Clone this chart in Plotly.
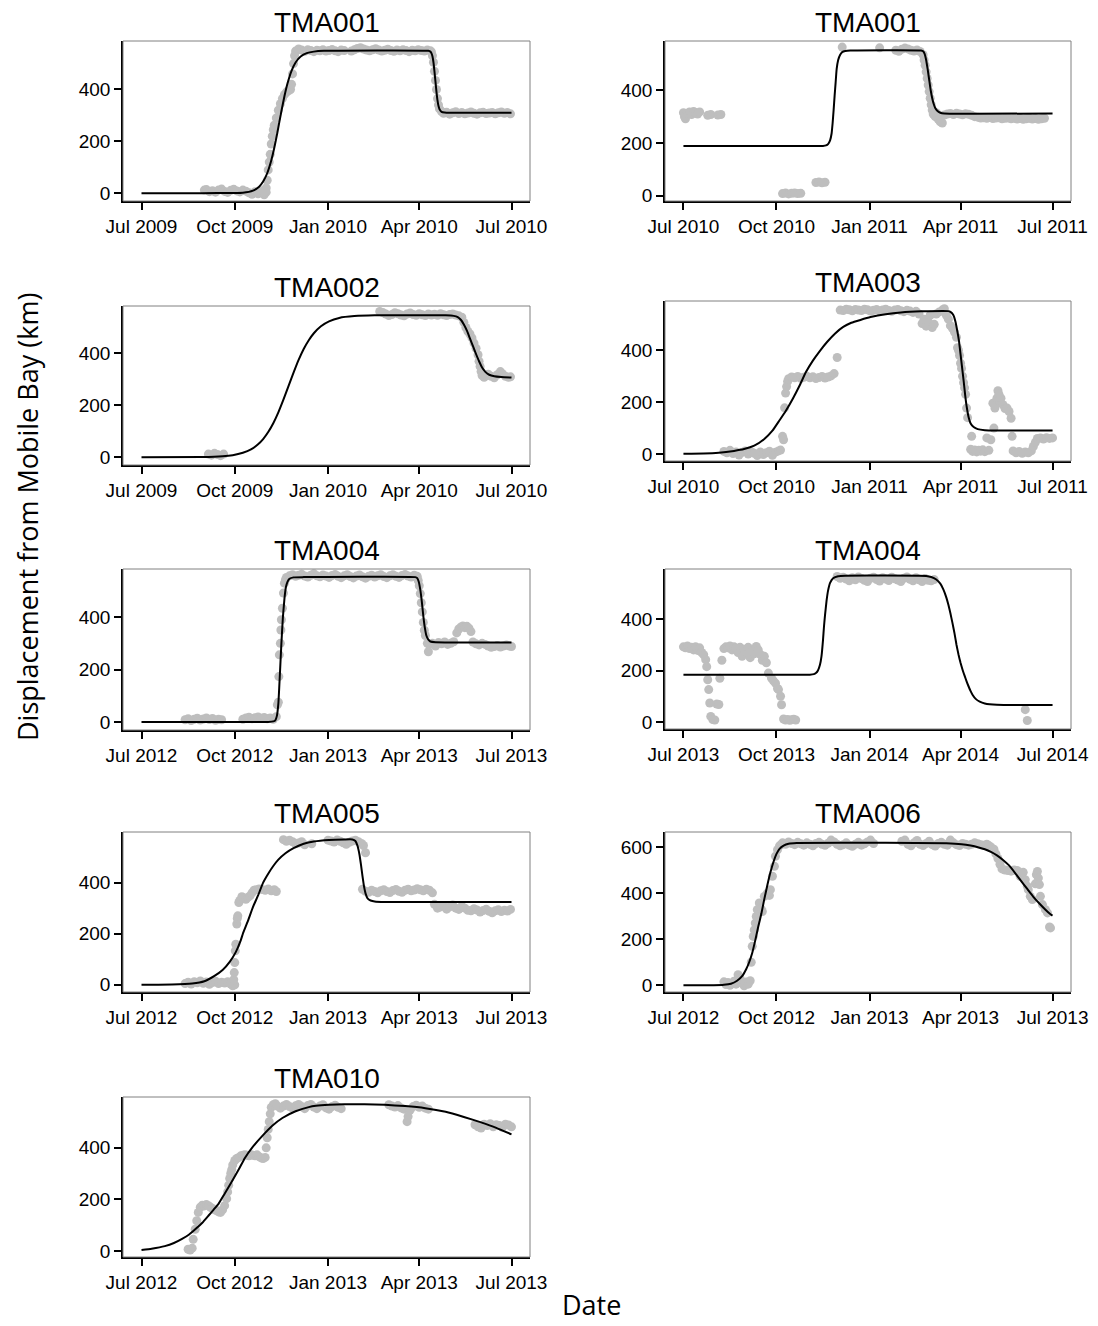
import pandas as pd
import plotly.graph_objects as go

W, H = 1098, 1326

# ---------------- data ----------------
# Each point is (days since 1 July of the panel's first year, displacement in km)
panel_titles = ["TMA001", "TMA001", "TMA002", "TMA003", "TMA004",
                "TMA004", "TMA005", "TMA006", "TMA010"]
panel_start_years = [2009, 2010, 2009, 2010, 2012, 2013, 2012, 2012, 2012]
tick_months = ["Jul", "Oct", "Jan", "Apr", "Jul"]

p1_points = [(62,12),(64,14),(67,6),(70,10),(73,4),(76,12),(79,16),(82,7),(85,3),(88,11),(91,15),(94,9),(97,5),
             (100,12),(103,8),(106,2),(109,-4),(112,6),(115,-2),(118,10),(121,-6),(123,4),
             (121,5),(123,20),(124,50),(125,90),(126,120),(127,150),(128,190),(129,220),(130,245),(131,262),
             (133,290),(135,320),(137,345),(139,365),(141,380),(143,390),(145,395),(147,400),(148,420),
             (149,460),(150,500),(151,530),
             (152,548),(155,556),(158,552),(161,547),(164,553),(167,550),(170,546),(173,551),(176,549),
             (179,553),(182,548),(185,550),(188,554),(191,549),(194,546),(197,552),(200,550),
             (207,548),(210,553),(213,558),(216,561),(219,556),(222,552),(225,549),(228,553),(231,557),
             (234,552),(237,548),(240,551),(243,555),(246,550),(249,547),(252,552),(255,549),(258,553),
             (261,550),(264,546),(267,551),(270,549),(273,553),(276,550),(279,548),(282,552),(285,549),
             (286,545),(287,530),(288,505),(289,470),(290,435),(291,400),(292,365),(293,340),(294,325),(296,315),
             (298,308),(301,312),(304,305),(307,310),(310,314),(313,307),(316,311),(319,306),(322,309),
             (325,313),(328,308),(331,305),(334,310),(337,312),(340,307),(343,309),(346,311),(349,306),
             (352,310),(355,313),(358,308),(361,311),(364,306)]
p1_fit = [(0,0),(60,0),(90,1),(100,2),(110,10),(116,25),(120,45),(124,77),(128,126),(131,175),(134,233),
          (136,275),(138,316),(141,374),(144,423),(148,472),(152,504),(157,527),(163,540),(170,546),
          (180,549),(283,549),(285,546),(286,540),(287,528),(288,505),(289,470),(290,430),(291,390),
          (292,358),(293,336),(294,324),(296,314),(299,311),(305,310),(365,310)]

p2_points = [(0,315),(1,300),(2,292),(4,312),(6,318),(8,308),(10,320),(12,315),(14,310),(16,318),
             (24,305),(27,308),(34,306),(37,308),
             (98,8),(101,10),(104,7),(107,9),(110,10),(113,8),(116,9),
             (131,50),(134,52),(137,49),(140,51),
             (157,564),(194,561),(210,552),(213,548),(216,556),(219,560),(222,557),(225,552),(228,549),
             (231,553),(234,547),
             (237,535),(238,515),(239,495),(240,470),(241,445),(242,420),(243,395),(244,370),(245,345),
             (246,325),(247,310),(249,300),(252,290),(254,280),(256,276),
             (250,315),(253,305),(258,306),(261,310),(264,312),(267,308),(270,313),(273,310),(276,307),
             (279,311),(282,309),(285,305),(288,300),(291,298),(294,295),(297,296),(300,294),(303,297),
             (306,293),(309,295),(312,296),(315,292),(318,294),(321,295),(324,292),(327,294),(330,291),
             (333,293),(336,290),(339,292),(342,294),(345,291),(348,293),(351,290),(354,292),(357,294)]
p2_fit = [(0,189),(138,189),(141,191),(143,196),(145,210),(146.5,236),(147.5,275),(148.5,325),
          (149.5,380),(150.5,430),(151.5,480),(153,515),(155,535),(157,545),(160,549),(165,551),
          (235,551),(237,548),(238.5,538),(240,515),(241.5,480),(243,440),(244.5,400),(246,370),
          (247.5,348),(249,333),(251,322),(254,315),(258,312),(365,312)]

p3_points = [(66,12),(69,8),(72,15),(75,10),(78,6),(81,12),
             (235,562),(238,558),(241,552),(244,546),(247,550),(250,557),(253,553),(256,548),(259,545),
             (262,552),(265,556),(268,550),(271,547),(274,553),(277,549),(280,546),(283,552),(286,548),
             (289,551),(292,547),(295,553),(298,549),(301,546),(304,550),(307,552),(310,548),(313,545),
             (316,540),(318,520),(320,500),(322,485),(324,475),(326,460),(328,440),(330,420),(332,395),
             (333,370),(334,350),(335,330),(336,315),
             (338,308),(340,315),(342,320),(345,312),(348,306),(351,318),(354,330),(356,322),(359,312),
             (362,308),(364,310)]
p3_fit = [(0,0),(60,1),(80,4),(90,8),(100,17),(108,30),(115,50),(120,70),(125,97),(130,131),(135,173),
          (140,222),(145,274),(150,326),(155,375),(160,417),(165,451),(170,478),(177,505),(185,524),
          (195,537),(210,544),(230,547),(300,547),(308,545),(312,540),(315,530),(318,512),(321,488),
          (324,458),(327,428),(330,398),(333,370),(336,346),(339,330),(343,318),(348,312),(355,309),(365,307)]

p4_points = [(40,10),(43,5),(46,14),(49,2),(52,8),(55,-4),(58,6),(61,12),(64,0),(67,9),(70,3),(73,-6),
             (76,8),(79,-2),(82,5),(85,11),(88,-5),(91,7),(94,12),(96,15),
             (98,68),(99,55),(100,178),(101,235),(102,260),(103,280),
             (104,290),(107,297),(110,294),(113,299),(116,292),(119,296),(122,300),(125,294),(128,298),
             (131,291),(134,295),(137,299),(140,293),(143,297),(146,301),(149,310),(152,372),
             (155,555),(158,553),(161,558),(164,556),(167,552),(170,557),(173,555),(176,553),(179,558),
             (182,556),(185,551),(188,554),(191,557),(194,552),(197,555),(200,558),(203,553),(206,550),
             (209,555),(212,557),(215,552),(218,549),(221,554),(224,551),(227,546),(230,550),(233,540),
             (236,503),(238,520),(240,493),(242,510),(244,535),(246,488),(248,500),(250,540),(253,548),
             (256,555),(258,560),(260,535),(262,520),(264,495),(266,485),(268,470),(270,450),
             (271,410),(272,400),(273,380),(274,350),(275,330),(276,300),(277,275),(278,255),(279,230),
             (280,177),(281,140),
             (285,68),(284,18),(286,10),(288,15),(290,8),(292,14),(294,11),(296,16),(298,9),(300,62),
             (302,14),(304,55),(306,196),(307,100),(308,177),(310,215),(311,244),(312,230),(313,200),
             (314,215),(316,190),(318,175),(320,177),(322,164),(324,138),(325,68),(326,12),(329,5),
             (332,10),(335,3),(338,8),(341,5),(344,12),(346,29),(348,45),(350,60),(353,62),(356,58),
             (359,63),(362,60),(365,62)]
p4_fit = [(0,1),(20,2),(35,5),(50,12),(60,19),(70,32),(80,58),(88,90),(95,130),(101,165),(108,212),
          (115,265),(121,315),(128,360),(135,398),(142,432),(150,465),(158,490),(166,506),(175,517),
          (185,528),(200,539),(215,546),(235,550),(262,551),(264,548),(267,535),(269,510),(271,470),
          (272.5,435),(274,385),(275.5,335),(277,285),(278.5,230),(280,185),(282,142),(284,118),
          (287,104),(291,96),(298,92),(310,91),(365,91)]

p5_points = [(43,8),(46,12),(49,5),(52,10),(55,14),(58,7),(61,11),(64,15),(67,9),(70,13),(73,6),(76,10),(79,8),
             (100,10),(103,15),(106,18),(109,12),(112,16),(115,19),(118,14),(121,17),(124,12),(127,15),
             (130,10),(133,20),(134,65),
             (135,75),(135.5,173),(136,256),(137,300),(137.5,351),(138,390),(139,434),(140,492),(141,530),(142,543),
             (143,552),(146,558),(149,562),(152,556),(155,560),(158,564),(161,557),(164,553),(167,560),
             (170,566),(173,558),(176,554),(179,561),(182,557),(185,552),(188,559),(191,563),(194,556),
             (197,551),(200,558),(203,562),(206,555),(209,550),(212,557),(215,561),(218,554),(221,549),
             (224,556),(227,560),(230,553),(233,558),(236,562),(239,555),(242,551),(245,558),(248,562),
             (251,556),(254,552),(257,559),(260,563),(263,557),(266,553),(269,560),(272,556),
             (273,540),(274,520),(275,490),(276,455),(277,420),(278,380),(279,350),(280,330),(282,300),(283,268),
             (284,295),(287,300),(290,290),(293,303),(296,298),(299,305),(302,296),(305,300),(308,306),
             (311,340),(313,355),(315,362),(317,366),(319,360),(321,365),(323,358),(325,345),(327,305),
             (330,298),(333,294),(336,300),(339,296),(342,290),(345,285),(348,288),(351,292),(354,286),
             (357,290),(360,294),(363,290),(365,288)]
p5_fit = [(0,0),(125,0),(130,2),(132,6),(133.5,22),(135,70),(136.5,180),(138,300),(139.5,400),(141,470),
          (142.5,515),(144,535),(146,547),(150,552),(160,553),(270,553),(272,549),(273.5,535),(275,505),
          (276.5,460),(278,405),(279.5,360),(281,330),(283,314),(285,307),(290,304),(365,303)]

p6_points = [(0,292),(2,288),(4,295),(6,285),(8,290),(10,280),(12,292),(14,278),(16,288),(18,270),
             (20,261),(22,242),(23,215),(24,164),(25,126),(26,74),(27,22),(29,10),(31,8),(33,70),(35,68),
             (36,170),(38,240),
             (40,285),(42,292),(44,288),(46,295),(48,280),(50,292),(52,287),(54,270),(56,290),(58,255),
             (60,282),(62,270),(64,290),(66,250),(68,278),(70,265),(72,293),(74,280),(76,262),(78,240),
             (80,255),(82,230),
             (84,190),(87,171),(89,160),(91,151),(93,130),(94,126),(96,100),(97,67),
             (99,12),(101,8),(103,10),(105,7),(107,9),(109,11),(111,8),
             (152,565),(155,558),(158,562),(161,555),(164,548),(167,560),(170,552),(173,563),(176,557),
             (179,550),(182,545),(185,558),(188,562),(191,553),(194,547),(197,560),(200,555),(203,549),
             (206,562),(209,556),(212,551),(215,545),(218,558),(221,563),(224,554),(227,548),(230,560),
             (233,552),(236,545),(239,557),(242,550),(245,548),(248,553),
             (338,48),(340,6)]
p6_fit = [(0,184),(125,184),(129,186),(131,190),(133,200),(135,222),(136.5,255),(138,318),(139,372),
          (140,415),(141.5,470),(143,510),(145,540),(148,558),(153,566),(160,568),(240,567),(245,563),
          (250,553),(254,537),(257,515),(260,483),(262,455),(264,422),(266,385),(268,345),(270,300),
          (272,262),(274,230),(276,203),(278,180),(280,158),(282,138),(284,120),(286,105),(289,90),
          (293,79),(298,72),(310,67),(365,66)]

p7_points = [(43,5),(46,10),(49,3),(52,12),(55,8),(58,15),(61,6),(64,11),(67,2),(70,9),(73,14),(76,5),
             (79,10),(82,7),(85,12),(88,3),(90,-4),(92,0),
             (91,20),(91.5,48),(92,87),(92.5,133),(93,159),(94,238),(94.5,260),(95,270),(96,322),
             (97,330),(99,345),(101,340),(103,335),(105,342),(107,348),(109,360),(111,370),(113,372),
             (116,375),(119,373),(122,370),(125,375),(128,368),(131,372),(133,365),
             (140,568),(143,562),(146,566),(149,560),(152,552),(155,555),(158,560),(161,548),(168,552),
             (184,566),(187,563),(190,559),(193,567),(196,562),(199,556),(202,550),(205,558),(208,563),
             (211,566),(214,560),(217,553),(219,545),(221,517),
             (218,374),(221,366),(224,362),(227,370),(230,365),(233,360),(236,368),(239,372),(242,365),
             (245,361),(248,369),(251,373),(254,366),(257,362),(260,370),(263,374),(266,368),(269,371),
             (272,376),(275,372),(278,368),(281,374),(284,370),(287,360),
             (289,315),(292,300),(295,305),(298,310),(301,296),(304,305),(307,312),(310,300),(313,295),
             (316,308),(319,300),(322,292),(325,290),(328,298),(331,293),(334,285),(337,291),(340,296),
             (343,288),(346,282),(349,290),(352,294),(355,287),(358,292),(361,289),(364,295)]
p7_fit = [(0,0),(30,1),(50,5),(62,14),(72,35),(80,58),(87,90),(93,128),(98,175),(100,200),(105,250),
          (110,305),(115,350),(120,400),(125,435),(130,465),(135,490),(142,515),(150,535),(160,552),
          (170,561),(185,567),(200,569),(208,569),(211,563),(213,545),(215,510),(216.5,470),(218,425),
          (219.5,385),(221,358),(223,338),(226,330),(230,326),(240,324),(365,324)]

p8_points = [(40,15),(42,3),(44,12),(46,0),(48,8),(50,18),(52,5),(54,46),(56,30),(58,10),(60,-2),(62,14),
             (64,5),(66,20),
             (67,100),(68,169),(69,212),(70,240),(71,270),(72,299),(73,328),(75,357),(77,330),(78,320),
             (80,386),(83,400),(85,390),(86,415),(88,473),(90,516),(91,560),(93,588),(95,605),(97,612),
             (98,618),(101,612),(104,622),(107,615),(110,610),(113,620),(116,614),(119,608),(122,618),
             (125,612),(128,605),(131,615),(134,620),(137,612),(140,607),(143,616),(146,630),(149,622),
             (152,612),(155,605),(158,610),(161,618),(164,608),(167,603),(170,612),(173,620),(176,608),
             (179,614),(182,622),(185,630),(188,615),
             (216,625),(219,630),(222,612),(225,605),(228,618),(231,628),(234,612),(237,606),(240,615),
             (243,625),(246,610),(249,604),(252,615),(255,620),(258,612),(261,608),(264,630),(267,618),
             (270,610),(273,606),(276,615),(279,612),(282,608),(285,612),(288,618),(291,614),(294,610),
             (297,608),(300,612),(302,606),(304,600),
             (307,590),(309,570),(311,550),(313,525),(315,505),(318,500),(321,498),(324,495),(327,500),
             (330,498),(333,473),(336,490),(338,458),(340,430),(341,415),(343,386),(345,372),(348,440),
             (349,480),(350,494),(351,465),(352,437),(353,386),(355,350),(358,328),(360,314),(362,253),(363,249)]
p8_fit = [(0,0),(30,0),(40,2),(47,7),(53,20),(58,40),(62,70),(65,100),(68,140),(71,195),(74,255),(77,310),
          (80,375),(83,435),(86,490),(89,535),(92,570),(95,592),(99,606),(104,614),(112,617),(200,618),
          (260,616),(275,612),(284,606),(292,598),(298,590),(304,579),(310,564),(316,544),(322,520),
          (328,487),(334,452),(340,418),(346,384),(352,355),(358,328),(363,308),(365,302)]

p9_points = [(46,8),(48,5),(50,12),(51,46),(53,85),(54.5,118),(56,150),(58,170),(60,178),(62,175),
             (64,180),(66,176),(68,170),(70,165),(72,160),(74,157),(76,152),(78,150),(80,160),(82,176),
             (84,203),(85,229),(86,255),(87,281),(88,300),(89,315),(90,333),(92,350),(94,358),(96,362),
             (98,368),(100,370),(102,372),(104,370),(106,368),(108,372),(110,370),(112,368),(114,372),
             (116,365),(118,360),(120,358),(122,362),(123,399),(124,438),(125,470),(126,500),(127,530),
             (128,555),
             (130,565),(132,569),(134,560),(137,552),(140,560),(143,566),(146,558),(149,552),(152,561),
             (155,566),(158,558),(161,550),(164,562),(167,566),(170,556),(173,550),(176,560),(179,565),
             (182,553),(185,548),(188,558),(191,563),(194,555),(197,550),
             (244,565),(247,560),(250,556),(253,562),(256,553),(259,548),(262,500),(263,520),(265,545),
             (268,558),(271,563),(274,555),(277,560),(280,552),(283,548),
             (329,488),(332,480),(335,475),(338,490),(341,485),(344,492),(347,480),(350,488),(353,485),
             (356,478),(359,490),(362,487),(365,480)]
p9_fit = [(0,5),(10,10),(23,20),(32,32),(40,48),(47,65),(53,85),(60,110),(66,137),(71,160),(76,183),
          (82,222),(89,268),(96,316),(102,360),(109,399),(119,444),(129,484),(139,514),(152,540),
          (165,556),(172,561),(185,565),(200,567),(220,567),(240,565),(260,560),(280,552),(300,538),
          (318,518),(335,497),(350,476),(365,451)]

all_points = [p1_points, p2_points, p3_points, p4_points, p5_points,
              p6_points, p7_points, p8_points, p9_points]
all_fits = [p1_fit, p2_fit, p3_fit, p4_fit, p5_fit, p6_fit, p7_fit, p8_fit, p9_fit]

# ---------------- layout (pixels) ----------------
col_x = {0: (123, 530), 1: (665, 1071)}
panel_rows = [(41, 201), (41, 201), (306, 465), (301, 461), (569, 730),
              (569, 729), (832, 992), (832, 992), (1097, 1257)]
panel_yrange = [(-30, 587), (-20, 587), (-30, 583), (-27, 590), (-31, 584),
                (-27, 594), (-28, 598), (-29, 665), (-22, 595)]

FONT_TICK = dict(family="Liberation Sans", size=19, color="black")
FONT_TITLE = dict(family="Liberation Sans", size=28, color="black")
FONT_AXT = dict(family="Open Sans", size=27, color="black")

fig = go.Figure()
layout = {}
shapes = []
annotations = []


def to_dates(start, days):
    return [start + pd.to_timedelta(d, unit="D") for d in days]


for i in range(9):
    n = i + 1
    xs = "" if n == 1 else str(n)
    col = i % 2
    x0, x1 = col_x[col]
    top, bot = panel_rows[i]
    yr = panel_start_years[i]
    start = pd.Timestamp(f"{yr}-07-01")
    end = pd.Timestamp(f"{yr + 1}-07-01")

    pd_days = [p[0] for p in all_points[i]]
    pd_km = [p[1] for p in all_points[i]]
    fd_days = [p[0] for p in all_fits[i]]
    fd_km = [p[1] for p in all_fits[i]]

    fig.add_trace(go.Scatter(x=to_dates(start, pd_days), y=pd_km, mode="markers",
                             marker=dict(size=9, color="#BEBEBE", line=dict(width=0)),
                             xaxis="x" + xs, yaxis="y" + xs, hoverinfo="skip"))
    fig.add_trace(go.Scatter(x=to_dates(start, fd_days), y=fd_km, mode="lines",
                             line=dict(color="black", width=2, shape="spline", smoothing=0.4),
                             xaxis="x" + xs, yaxis="y" + xs, hoverinfo="skip"))

    tickdates = [pd.Timestamp(f"{yr}-07-01"), pd.Timestamp(f"{yr}-10-01"),
                 pd.Timestamp(f"{yr + 1}-01-01"), pd.Timestamp(f"{yr + 1}-04-01"),
                 pd.Timestamp(f"{yr + 1}-07-01")]
    ticktext = [f"{m} {d.year}" for m, d in zip(tick_months, tickdates)]
    pad = pd.Timedelta(days=18.25)

    layout["xaxis" + xs] = dict(
        domain=[x0 / W, x1 / W], anchor="y" + xs, type="date", automargin=False,
        range=[start - pad, end + pad], tickvals=tickdates, ticktext=ticktext,
        showline=True, linecolor="black", linewidth=1.5, ticks="outside", ticklen=7,
        tickwidth=1.5, tickcolor="black", showgrid=False, zeroline=False, tickfont=FONT_TICK)
    layout["yaxis" + xs] = dict(
        domain=[1 - bot / H, 1 - top / H], anchor="x" + xs, range=list(panel_yrange[i]),
        automargin=False, tick0=0, dtick=200, showline=True, linecolor="black", linewidth=1.5,
        ticks="outside", ticklen=7, tickwidth=1.5, tickcolor="black", showgrid=False,
        zeroline=False, tickfont=FONT_TICK)

    shapes.append(dict(type="rect", xref=f"x{xs} domain", yref=f"y{xs} domain",
                       x0=0, x1=1, y0=0, y1=1, line=dict(color="#808080", width=1)))
    annotations.append(dict(text=panel_titles[i], x=(x0 + x1) / 2 / W, y=1 - (top - 19) / H,
                            xref="paper", yref="paper", xanchor="center", yanchor="middle",
                            showarrow=False, font=FONT_TITLE))

annotations.append(dict(text="Displacement from Mobile Bay (km)", x=28 / W, y=1 - 517 / H,
                        xref="paper", yref="paper", xanchor="center", yanchor="middle",
                        textangle=-90, showarrow=False, font=FONT_AXT))
annotations.append(dict(text="Date", x=591 / W, y=1 / H, xref="paper", yref="paper",
                        xanchor="center", yanchor="bottom", showarrow=False, font=FONT_AXT))

fig.update_layout(width=W, height=H, margin=dict(l=0, r=0, t=0, b=0, autoexpand=False),
                  paper_bgcolor="white", plot_bgcolor="white", showlegend=False,
                  shapes=shapes, annotations=annotations, **layout)

fig.write_html("out.html")
